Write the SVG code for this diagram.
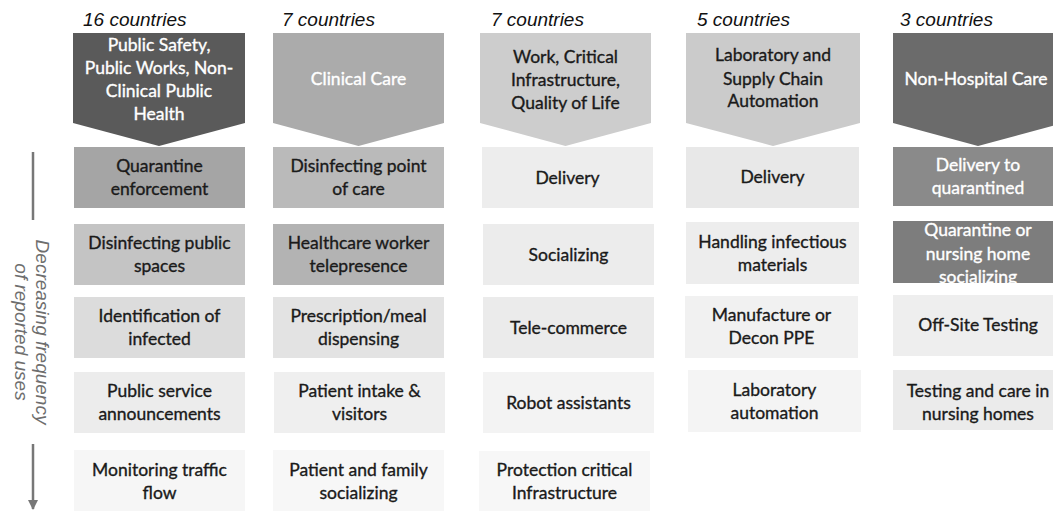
<svg xmlns="http://www.w3.org/2000/svg" width="1053" height="511" viewBox="0 0 1053 511">
<style>
.hdr{font-family:"Liberation Sans",Arial,sans-serif;font-style:italic;font-size:19px;fill:#111}
.t{font-family:Lato,"Liberation Sans",sans-serif;font-size:17.5px;fill:#1a1a1a;stroke:#1a1a1a;stroke-width:0.35;text-anchor:middle}
.w{fill:#ffffff;stroke:#ffffff}
.side{font-family:"Liberation Sans",Arial,sans-serif;font-style:italic;font-size:19px;fill:#6e6e6e;text-anchor:middle}
.ln{stroke:#777;stroke-width:2.5;fill:none}
</style>
<defs>
<marker id="ah" viewBox="0 0 10 10" refX="9" refY="5" markerWidth="4" markerHeight="4" orient="auto" markerUnits="strokeWidth">
<path d="M0,0 L10,5 L0,10 Z" fill="#777"/>
</marker>
</defs>
<rect width="1053" height="511" fill="#ffffff"/>

<g id="connectors">
<line class="ln" x1="33" y1="152" x2="33" y2="220"/>
<line class="ln" x1="33" y1="444" x2="33" y2="509" marker-end="url(#ah)"/>
</g>
<g id="axis-label">
<text class="side" transform="translate(36,332) rotate(90)">Decreasing frequency</text>
<text class="side" transform="translate(15,332) rotate(90)">of reported uses</text>
</g>

<!-- Column 1 -->
<g id="col1-header">
<text class="hdr" x="83" y="26">16 countries</text>
<path d="M73,33 H245 V123 L159,146 L73,123 Z" fill="#5a5a5a"/>
<text class="t w" x="159" y="51">Public Safety,</text>
<text class="t w" x="159" y="74">Public Works, Non-</text>
<text class="t w" x="159" y="97">Clinical Public</text>
<text class="t w" x="159" y="120">Health</text>
</g>
<g id="col1-r1"><rect x="74" y="147" width="171" height="61" fill="#a5a5a5"/><text class="t" x="159.5" y="172">Quarantine</text><text class="t" x="159.5" y="195">enforcement</text></g>
<g id="col1-r2"><rect x="74" y="224" width="171" height="61" fill="#c4c4c4"/><text class="t" x="159.5" y="249">Disinfecting public</text><text class="t" x="159.5" y="272">spaces</text></g>
<g id="col1-r3"><rect x="74" y="297" width="171" height="61" fill="#dcdcdc"/><text class="t" x="159.5" y="322">Identification of</text><text class="t" x="159.5" y="345">infected</text></g>
<g id="col1-r4"><rect x="74" y="372" width="171" height="61" fill="#ececec"/><text class="t" x="159.5" y="397">Public service</text><text class="t" x="159.5" y="420">announcements</text></g>
<g id="col1-r5"><rect x="74" y="450" width="171" height="63" fill="#f6f6f6"/><text class="t" x="159.5" y="476">Monitoring traffic</text><text class="t" x="159.5" y="499">flow</text></g>

<!-- Column 2 -->
<g id="col2-header">
<text class="hdr" x="282" y="26">7 countries</text>
<path d="M273,33 H444 V123 L358.5,146 L273,123 Z" fill="#ababab"/>
<text class="t w" x="358.5" y="85">Clinical Care</text>
</g>
<g id="col2-r1"><rect x="273" y="147" width="171" height="61" fill="#bababa"/><text class="t" x="358.5" y="172">Disinfecting point</text><text class="t" x="358.5" y="195">of care</text></g>
<g id="col2-r2"><rect x="273" y="224" width="171" height="61" fill="#b3b3b3"/><text class="t" x="358.5" y="249">Healthcare worker</text><text class="t" x="358.5" y="272">telepresence</text></g>
<g id="col2-r3"><rect x="273" y="297" width="171" height="61" fill="#e3e3e3"/><text class="t" x="358.5" y="322">Prescription/meal</text><text class="t" x="358.5" y="345">dispensing</text></g>
<g id="col2-r4"><rect x="274" y="372" width="171" height="61" fill="#efefef"/><text class="t" x="359.5" y="397">Patient intake &amp;</text><text class="t" x="359.5" y="420">visitors</text></g>
<g id="col2-r5"><rect x="273" y="450" width="171" height="63" fill="#f7f7f7"/><text class="t" x="358.5" y="476">Patient and family</text><text class="t" x="358.5" y="499">socializing</text></g>

<!-- Column 3 -->
<g id="col3-header">
<text class="hdr" x="491" y="26">7 countries</text>
<path d="M480,33 H651 V123 L565.5,146 L480,123 Z" fill="#cdcdcd"/>
<text class="t" x="565.5" y="63">Work, Critical</text>
<text class="t" x="565.5" y="86">Infrastructure,</text>
<text class="t" x="565.5" y="109">Quality of Life</text>
</g>
<g id="col3-r1"><rect x="482" y="147" width="171" height="61" fill="#ededed"/><text class="t" x="567.5" y="184">Delivery</text></g>
<g id="col3-r2"><rect x="483" y="224" width="171" height="61" fill="#ececec"/><text class="t" x="568.5" y="261">Socializing</text></g>
<g id="col3-r3"><rect x="483" y="297" width="171" height="61" fill="#ebebeb"/><text class="t" x="568.5" y="334">Tele-commerce</text></g>
<g id="col3-r4"><rect x="483" y="372" width="171" height="61" fill="#f3f3f3"/><text class="t" x="568.5" y="409">Robot assistants</text></g>
<g id="col3-r5"><rect x="479" y="451" width="171" height="62" fill="#f7f7f7"/><text class="t" x="564.5" y="476">Protection critical</text><text class="t" x="564.5" y="499">Infrastructure</text></g>

<!-- Column 4 -->
<g id="col4-header">
<text class="hdr" x="697" y="26">5 countries</text>
<path d="M686,33 H860 V123 L773,146 L686,123 Z" fill="#cbcbcb"/>
<text class="t" x="773" y="61">Laboratory and</text>
<text class="t" x="773" y="85">Supply Chain</text>
<text class="t" x="773" y="107">Automation</text>
</g>
<g id="col4-r1"><rect x="686" y="147" width="173" height="61" fill="#e8e8e8"/><text class="t" x="772.5" y="183">Delivery</text></g>
<g id="col4-r2"><rect x="686" y="222" width="173" height="62" fill="#ededed"/><text class="t" x="772.5" y="248">Handling infectious</text><text class="t" x="772.5" y="271">materials</text></g>
<g id="col4-r3"><rect x="685" y="296" width="173" height="62" fill="#f1f1f1"/><text class="t" x="771.5" y="321">Manufacture or</text><text class="t" x="771.5" y="344">Decon PPE</text></g>
<g id="col4-r4"><rect x="688" y="370" width="173" height="62" fill="#f4f4f4"/><text class="t" x="774.5" y="396">Laboratory</text><text class="t" x="774.5" y="419">automation</text></g>

<!-- Column 5 -->
<g id="col5-header">
<text class="hdr" x="900" y="26">3 countries</text>
<path d="M893,33 H1063 V123 L978,146 L893,123 Z" fill="#6b6b6b"/>
<text class="t w" x="976" y="85">Non-Hospital Care</text>
</g>
<g id="col5-r1"><rect x="893" y="147" width="170" height="59" fill="#8a8a8a"/><text class="t w" x="978" y="171">Delivery to</text><text class="t w" x="978" y="194">quarantined</text></g>
<g id="col5-r2"><rect x="893" y="221" width="170" height="62" fill="#7d7d7d"/><text class="t w" x="978" y="236">Quarantine or</text><text class="t w" x="978" y="260">nursing home</text><text class="t w" x="978" y="283">socializing</text></g>
<g id="col5-r3"><rect x="893" y="295" width="170" height="61" fill="#eeeeee"/><text class="t" x="978" y="331">Off-Site Testing</text></g>
<g id="col5-r4"><rect x="893" y="370" width="170" height="60" fill="#ebebeb"/><text class="t" x="978" y="397">Testing and care in</text><text class="t" x="978" y="420">nursing homes</text></g>
</svg>
